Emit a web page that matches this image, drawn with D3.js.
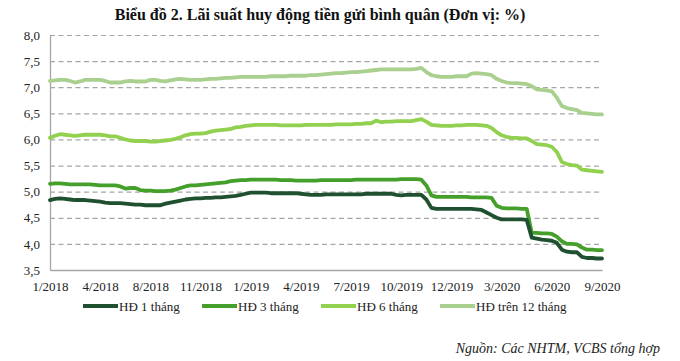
<!DOCTYPE html>
<html>
<head>
<meta charset="utf-8">
<script src="https://cdn.jsdelivr.net/npm/d3@7/dist/d3.min.js"></script>
<style>
  html, body { margin: 0; padding: 0; background: #fff; }
  svg { display: block; font-family: "Liberation Serif", "Times New Roman", serif; }
</style>
</head>
<body>
<svg id="chart" width="680" height="361"></svg>
<script>
// ---- data ----
const title = "Biểu đồ 2. Lãi suất huy động tiền gửi bình quân (Đơn vị: %)";
const source = "Nguồn: Các NHTM, VCBS tổng hợp";
const tickLabels = ["1/2018","4/2018","8/2018","11/2018","1/2019","4/2019","7/2019","10/2019","12/2019","3/2020","6/2020","9/2020"];
const pointsPerLabel = 10;
const seriesNames = ["HĐ 1 tháng","HĐ 3 tháng","HĐ 6 tháng","HĐ trên 12 tháng"];
const yTicks = [3.5,4.0,4.5,5.0,5.5,6.0,6.5,7.0,7.5,8.0];

const hd1 = [4.84,4.86,4.87,4.86,4.85,4.84,4.84,4.84,4.83,4.82,
  4.81,4.79,4.78,4.78,4.78,4.77,4.76,4.75,4.75,4.74,
  4.74,4.74,4.74,4.77,4.79,4.81,4.83,4.85,4.86,4.87,
  4.87,4.88,4.88,4.89,4.89,4.90,4.91,4.92,4.94,4.96,
  4.98,4.98,4.98,4.98,4.97,4.97,4.97,4.97,4.97,4.97,
  4.96,4.95,4.94,4.94,4.94,4.95,4.95,4.95,4.95,4.95,
  4.95,4.95,4.95,4.96,4.96,4.96,4.96,4.96,4.96,4.94,
  4.93,4.94,4.94,4.94,4.94,4.85,4.69,4.67,4.67,4.67,
  4.67,4.67,4.67,4.67,4.67,4.66,4.65,4.60,4.55,4.50,
  4.47,4.47,4.47,4.47,4.47,4.46,4.12,4.10,4.08,4.07,
  4.06,4.02,3.89,3.85,3.84,3.84,3.75,3.73,3.73,3.72,3.72];

const hd3 = [5.15,5.16,5.16,5.15,5.14,5.14,5.14,5.14,5.14,5.13,
  5.12,5.12,5.12,5.12,5.10,5.06,5.07,5.07,5.03,5.02,
  5.02,5.01,5.01,5.01,5.02,5.04,5.07,5.10,5.12,5.12,
  5.13,5.14,5.15,5.16,5.17,5.18,5.20,5.21,5.22,5.22,
  5.23,5.23,5.23,5.23,5.23,5.23,5.22,5.22,5.22,5.21,
  5.21,5.21,5.21,5.21,5.22,5.22,5.22,5.22,5.22,5.22,
  5.22,5.23,5.23,5.23,5.23,5.23,5.23,5.23,5.23,5.23,
  5.24,5.24,5.24,5.24,5.23,5.12,4.93,4.90,4.90,4.90,
  4.90,4.90,4.90,4.90,4.89,4.89,4.89,4.89,4.88,4.73,
  4.69,4.68,4.68,4.68,4.67,4.67,4.21,4.21,4.20,4.20,
  4.19,4.14,4.05,4.00,4.00,3.99,3.93,3.89,3.89,3.88,3.88];

const hd6 = [6.03,6.07,6.10,6.09,6.08,6.07,6.08,6.09,6.09,6.09,
  6.09,6.08,6.06,6.06,6.03,6.00,5.98,5.97,5.97,5.97,
  5.96,5.96,5.97,5.98,5.99,6.01,6.04,6.08,6.10,6.11,
  6.11,6.12,6.15,6.17,6.18,6.19,6.20,6.23,6.24,6.26,
  6.27,6.28,6.28,6.28,6.28,6.28,6.27,6.27,6.27,6.27,
  6.27,6.28,6.28,6.28,6.28,6.28,6.28,6.29,6.29,6.29,
  6.29,6.30,6.30,6.31,6.31,6.36,6.33,6.34,6.34,6.35,
  6.35,6.35,6.35,6.37,6.39,6.34,6.28,6.27,6.26,6.26,
  6.26,6.27,6.27,6.28,6.28,6.28,6.27,6.26,6.22,6.14,
  6.08,6.05,6.03,6.03,6.02,6.02,5.97,5.91,5.90,5.89,
  5.86,5.76,5.57,5.53,5.51,5.50,5.42,5.41,5.40,5.39,5.38];

const hd12 = [7.12,7.13,7.14,7.14,7.12,7.09,7.11,7.14,7.14,7.14,
  7.14,7.12,7.09,7.09,7.09,7.11,7.12,7.11,7.11,7.11,
  7.14,7.14,7.12,7.11,7.13,7.15,7.16,7.15,7.14,7.14,
  7.14,7.15,7.16,7.16,7.17,7.18,7.18,7.19,7.20,7.20,
  7.20,7.20,7.20,7.20,7.21,7.21,7.21,7.21,7.22,7.22,
  7.22,7.22,7.23,7.23,7.24,7.25,7.26,7.27,7.27,7.28,
  7.29,7.29,7.30,7.31,7.32,7.33,7.34,7.34,7.34,7.34,
  7.34,7.34,7.34,7.35,7.37,7.29,7.23,7.21,7.20,7.20,
  7.20,7.21,7.21,7.21,7.26,7.27,7.26,7.25,7.23,7.16,
  7.12,7.09,7.08,7.08,7.07,7.06,7.02,6.96,6.95,6.94,
  6.92,6.80,6.64,6.60,6.58,6.56,6.51,6.50,6.49,6.48,6.48];

const seriesValues = [hd1, hd3, hd6, hd12];
const colors = ["#1f5130", "#44a02a", "#92d050", "#a9d08e"];

// ---- chart ----
const svg = d3.select("#chart");
const margin = {left: 50, right: 78, top: 35, bottom: 91};
const W = 680, H = 361;
const nPts = hd1.length;

const x = d3.scaleLinear().domain([0, nPts - 1]).range([margin.left, W - margin.right]);
const y = d3.scaleLinear().domain([3.5, 8.0]).range([H - margin.bottom, margin.top]);

// title
svg.append("text")
  .attr("x", 320).attr("y", 20)
  .attr("text-anchor", "middle")
  .attr("font-size", 16).attr("font-weight", "bold")
  .attr("fill", "#111")
  .text(title);

// gridlines
const grid = svg.append("g")
  .attr("transform", `translate(${margin.left},0)`)
  .call(d3.axisLeft(y).tickValues(yTicks.filter(v => v > 3.5))
    .tickSize(-(W - margin.right - margin.left)).tickFormat(""));
grid.select(".domain").remove();
grid.selectAll("line")
  .attr("stroke", "#a6a6a6").attr("stroke-width", 1.2)
  .attr("stroke-dasharray", "5,3.5");

// y axis
const yAxis = svg.append("g")
  .attr("transform", `translate(${margin.left},0)`)
  .call(d3.axisLeft(y).tickValues(yTicks).tickSize(0).tickPadding(10)
    .tickFormat(d => d3.format(".1f")(d).replace(".", ",")));
yAxis.select(".domain").attr("stroke", "#a6a6a6").attr("stroke-width", 1.3);
yAxis.selectAll("text")
  .attr("font-family", "Liberation Serif, serif")
  .attr("font-size", 13).attr("fill", "#222");

// x axis
const xAxis = svg.append("g")
  .attr("transform", `translate(0,${y(3.5)})`)
  .call(d3.axisBottom(x)
    .tickValues(tickLabels.map((_, i) => i * pointsPerLabel))
    .tickSize(0).tickPadding(12)
    .tickFormat((d, i) => tickLabels[i]));
xAxis.select(".domain").attr("stroke", "#a6a6a6").attr("stroke-width", 1.6);
xAxis.selectAll("text")
  .attr("font-family", "Liberation Serif, serif")
  .attr("font-size", 13).attr("fill", "#222");

// lines
const line = d3.line().x((d, i) => x(i)).y(d => y(d));
const order = [3, 2, 1, 0];
order.forEach(k => {
  svg.append("path")
    .datum(seriesValues[k])
    .attr("fill", "none")
    .attr("stroke", colors[k])
    .attr("stroke-width", 3.8)
    .attr("stroke-linejoin", "round")
    .attr("stroke-linecap", "round")
    .attr("d", line);
});

// legend
const legendX = [83, 202, 321, 440];
const legend = svg.append("g");
seriesNames.forEach((name, k) => {
  const g = legend.append("g").attr("transform", `translate(${legendX[k]},306)`);
  g.append("line").attr("x1", 0).attr("x2", 35).attr("y1", 0).attr("y2", 0)
    .attr("stroke", colors[k]).attr("stroke-width", 3.8);
  g.append("text").attr("x", 36).attr("y", 0).attr("dy", "0.35em")
    .attr("font-size", 13).attr("fill", "#222").text(name);
});

// source
svg.append("text")
  .attr("x", 660).attr("y", 353)
  .attr("text-anchor", "end")
  .attr("font-size", 14).attr("font-style", "italic")
  .attr("fill", "#222")
  .text(source);
</script>
</body>
</html>
